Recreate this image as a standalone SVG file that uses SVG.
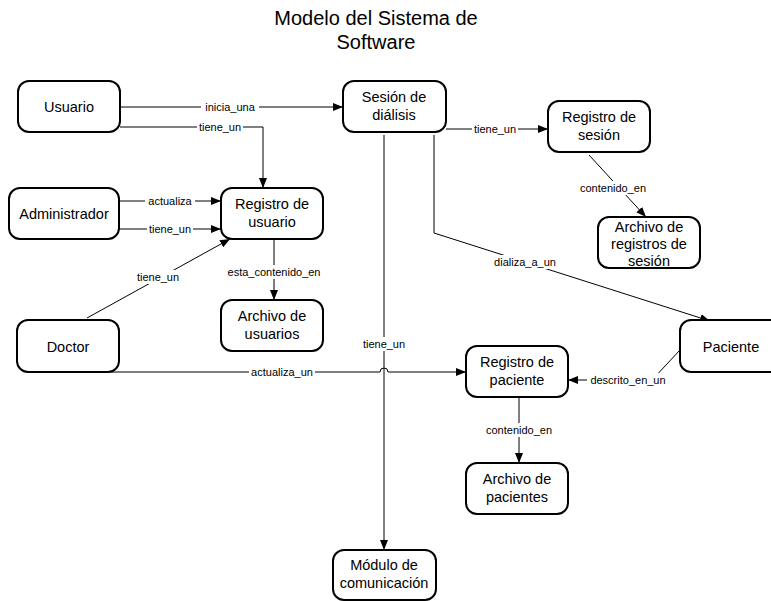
<svg xmlns="http://www.w3.org/2000/svg" width="771" height="601" viewBox="0 0 771 601">
<style>
.node rect{fill:#fff;stroke:#000;stroke-width:2}
.node text{font-family:"Liberation Sans",Arial,sans-serif;font-size:14.5px;fill:#000;text-anchor:middle}
.edges path{fill:none;stroke:#000;stroke-width:1}
.lbl rect{fill:#fff}
.lbl text{font-family:"Liberation Sans",Arial,sans-serif;font-size:11px;fill:#000;text-anchor:middle}
.title{font-family:"Liberation Sans",Arial,sans-serif;font-size:20px;fill:#000;text-anchor:middle}
</style>
<defs>
<marker id="arr" viewBox="0 0 10 8" refX="10" refY="4" markerWidth="10" markerHeight="8" markerUnits="userSpaceOnUse" orient="auto">
<path d="M0,0 L10,4 L0,8 Z" fill="#000"/>
</marker>
</defs>
<rect width="771" height="601" fill="#fff"/>
<text class="title" x="376" y="25">Modelo del Sistema de</text>
<text class="title" x="376" y="49">Software</text>

<g class="edges">
<path d="M120,107 L343,107" marker-end="url(#arr)"/>
<path d="M120,127 L263,127 L263,188" marker-end="url(#arr)"/>
<path d="M119,201 L221,201" marker-end="url(#arr)"/>
<path d="M119,229 L221,229" marker-end="url(#arr)"/>
<path d="M87,318 L230,239" marker-end="url(#arr)"/>
<path d="M274,239 L274,300" marker-end="url(#arr)"/>
<path d="M110,372 L380,372 A4,4 0 0 1 388,372 L466,372" marker-end="url(#arr)"/>
<path d="M384,135 L384,550" marker-end="url(#arr)"/>
<path d="M434,135 L434,233 L710,321" marker-end="url(#arr)"/>
<path d="M446,129 L548,129" marker-end="url(#arr)"/>
<path d="M589,155 L646,217" marker-end="url(#arr)"/>
<path d="M680,350 L652,380 L568,380" marker-end="url(#arr)"/>
<path d="M519,397 L519,463" marker-end="url(#arr)"/>
</g>

<g class="lbl">
<rect x="201" y="100" width="58" height="14"/><text x="230" y="111">inicia_una</text>
<rect x="197" y="120" width="46" height="14"/><text x="220" y="131">tiene_un</text>
<rect x="145" y="194" width="50" height="14"/><text x="170" y="205">actualiza</text>
<rect x="147" y="222" width="46" height="14"/><text x="170" y="233">tiene_un</text>
<rect x="135" y="270" width="46" height="14"/><text x="158" y="281">tiene_un</text>
<rect x="225" y="265" width="98" height="14"/><text x="274" y="276">esta_contenido_en</text>
<rect x="249" y="365" width="66" height="14"/><text x="282" y="376">actualiza_un</text>
<rect x="361" y="337" width="46" height="14"/><text x="384" y="348">tiene_un</text>
<rect x="492" y="255" width="66" height="14"/><text x="525" y="266">dializa_a_un</text>
<rect x="472" y="122" width="46" height="14"/><text x="495" y="133">tiene_un</text>
<rect x="580" y="181" width="66" height="14"/><text x="613" y="192">contenido_en</text>
<rect x="587" y="373" width="82" height="14"/><text x="628" y="384">descrito_en_un</text>
<rect x="486" y="423" width="66" height="14"/><text x="519" y="434">contenido_en</text>
</g>

<g id="usuario" class="node"><rect x="18" y="81" width="102" height="51" rx="11"/><text x="69" y="112">Usuario</text></g>
<g id="sesion" class="node"><rect x="343" y="81" width="103" height="51" rx="11"/><text x="394" y="102">Sesión de</text><text x="394" y="120">diálisis</text></g>
<g id="registro-sesion" class="node"><rect x="548" y="101" width="102" height="51" rx="11"/><text x="599" y="122">Registro de</text><text x="599" y="140">sesión</text></g>
<g id="archivo-registros" class="node"><rect x="598" y="217" width="102" height="51" rx="11"/><text x="649" y="232">Archivo de</text><text x="649" y="249">registros de</text><text x="649" y="266">sesión</text></g>
<g id="administrador" class="node"><rect x="9" y="188" width="110" height="51" rx="11"/><text x="64" y="219">Administrador</text></g>
<g id="registro-usuario" class="node"><rect x="221" y="188" width="102" height="51" rx="11"/><text x="272" y="209">Registro de</text><text x="272" y="227">usuario</text></g>
<g id="archivo-usuarios" class="node"><rect x="221" y="300" width="102" height="51" rx="11"/><text x="272" y="321">Archivo de</text><text x="272" y="339">usuarios</text></g>
<g id="doctor" class="node"><rect x="17" y="320" width="102" height="52" rx="11"/><text x="68" y="352">Doctor</text></g>
<g id="paciente" class="node"><rect x="680" y="320" width="102" height="52" rx="11"/><text x="731" y="352">Paciente</text></g>
<g id="registro-paciente" class="node"><rect x="466" y="346" width="102" height="51" rx="11"/><text x="517" y="367">Registro de</text><text x="517" y="385">paciente</text></g>
<g id="archivo-pacientes" class="node"><rect x="466" y="463" width="102" height="51" rx="11"/><text x="517" y="484">Archivo de</text><text x="517" y="502">pacientes</text></g>
<g id="modulo" class="node"><rect x="333" y="550" width="103" height="50" rx="11"/><text x="384" y="570">Módulo de</text><text x="384" y="588">comunicación</text></g>
</svg>
